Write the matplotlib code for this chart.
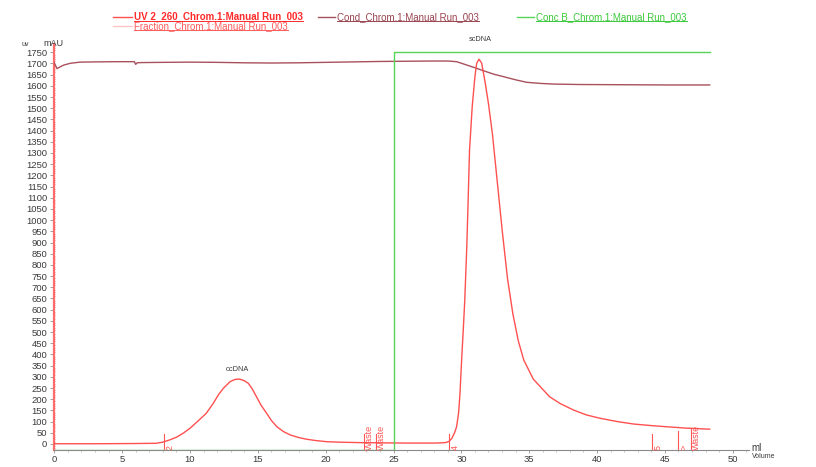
import matplotlib.pyplot as plt
from matplotlib.lines import Line2D
from matplotlib.ticker import MultipleLocator

plt.rcParams['font.family'] = ['Liberation Sans', 'DejaVu Sans']

# UV 260 nm absorbance (mAU) vs volume (ml)
uv_vol = [0, 3.5, 6, 7.5, 8.0, 8.5, 9.0, 9.5, 10.0, 10.6, 11.2, 11.7, 12.1, 12.45,
          12.95, 13.3, 13.63, 13.95, 14.3, 14.6, 14.9, 15.25, 15.65, 16.0, 16.4,
          16.9, 17.4, 18.0, 18.6, 19.3, 20.1, 21.0, 22.5, 24.0, 26.0, 28.0, 28.6,
          28.9, 29.1, 29.3, 29.5, 29.65, 29.8, 29.9, 30.02, 30.15, 30.25, 30.4,
          30.5, 30.6, 30.8, 31.0, 31.13, 31.3, 31.5, 31.74, 32.0, 32.3, 32.6, 33.0,
          33.4, 33.8, 34.2, 34.6, 35.3, 36.5, 37.3, 38.25, 39.2, 40.2, 41.5, 42.7,
          44.0, 45.1, 46.5, 48.3]
uv_mau = [1, 1, 2, 3, 8, 18, 30, 48, 70, 103, 137, 180, 220, 248,
          278, 288, 290, 284, 271, 245, 211, 172, 137, 105, 77,
          55, 40, 29, 21, 15, 10, 8, 6, 5, 4, 4, 5,
          7, 12, 25, 50, 77, 140, 226, 375, 520, 640, 880,
          1087, 1309, 1507, 1641, 1701, 1719, 1701, 1620, 1520, 1380, 1200, 960,
          740, 580, 460, 375, 290, 211, 180, 152, 130, 115, 100, 89,
          82, 77, 71, 66]

# conductivity trace (drawn on the mAU scale as in the original export)
cond_vol = [0, 0.1, 0.2, 0.4, 0.7, 1.2, 1.9, 3, 4.5, 5.9, 6.0, 6.1, 6.4, 8, 10, 12,
            14, 16, 18, 20, 22, 24, 26, 28, 29.0, 29.65, 30.4, 31.0, 31.6, 32.4,
            33.3, 34.0, 34.8, 35.8, 36.8, 38.7, 42, 45, 48.3]
cond_val = [1702, 1690, 1677, 1684, 1693, 1701, 1706, 1707, 1708, 1708, 1696, 1703,
            1704, 1705, 1706, 1705, 1703, 1702, 1703, 1705, 1707, 1709, 1710, 1711,
            1711, 1708, 1693, 1681, 1668, 1652, 1638, 1627, 1616, 1611, 1608, 1606,
            1605, 1604, 1604]

# concentration B (%)
concb_vol = [0, 25, 25, 48.3]
concb_pct = [0, 0, 100, 100]

# fraction marks
frac_vol = [8.08, 22.8, 23.7, 29.1, 44.07, 45.98, 46.9]
frac_lbl = ['2', 'Waste', 'Waste', '4', '5', '>', 'Waste']
frac_top = [45, 45, 45, 45, 45, 58, 70]

# peak names
peak_names = ['ocDNA', 'scDNA']
peak_vol = [13.5, 31.4]
peak_y = [318, 1790]

UV_C = '#ff5050'
COND_C = '#a8505c'
CONC_C = '#55d455'
FRAC_C = '#ff5555'
TXT_C = '#3a3a3a'

W, H = 816, 467
fig = plt.figure(figsize=(W / 100, H / 100), dpi=100)
ax = fig.add_axes([54.3 / W, 1 - 450 / H, (749 - 54.3) / W, (450 - 44) / H])

ax.plot(cond_vol, cond_val, color=COND_C, lw=1.0, zorder=3)
ax.plot(uv_vol, uv_mau, color=UV_C, lw=1.0, zorder=4)

# fraction marks with rotated labels
for v, lbl, top in zip(frac_vol, frac_lbl, frac_top):
    ax.plot([v, v], [-27, top], color=FRAC_C, lw=0.8, zorder=5)
    ax.text(v + 0.1, -25, lbl, rotation=90, ha='left', va='bottom',
            fontsize=6.5, color=FRAC_C, zorder=5)

for name, v, y in zip(peak_names, peak_vol, peak_y):
    ax.text(v, y, name, ha='center', va='bottom', fontsize=5.3, color=TXT_C,
            clip_on=False)

ax.set_xlim(0, 51.2)
ax.set_ylim(-27, 1787)
ax.xaxis.set_major_locator(MultipleLocator(5))
ax.xaxis.set_minor_locator(MultipleLocator(1))
ax.yaxis.set_major_locator(MultipleLocator(50))
ax.yaxis.set_minor_locator(MultipleLocator(10))
ax.set_yticks(range(0, 1751, 50))

ax.spines['top'].set_visible(False)
ax.spines['right'].set_visible(False)
ax.spines['left'].set_color('#ff6a6a')
ax.spines['left'].set_linewidth(1.6)
ax.spines['bottom'].set_color('#8a8a8a')
ax.spines['bottom'].set_linewidth(0.8)

ax.tick_params(axis='y', which='major', length=3, width=0.6, color='#909090',
               labelsize=6.8, labelcolor=TXT_C, pad=2)
ax.tick_params(axis='y', which='minor', length=2, width=0.6, color='#ff8080',
               direction='inout')
ax.tick_params(axis='x', which='major', length=2.5, width=0.6, color='#909090',
               labelsize=6.8, labelcolor=TXT_C, pad=1)
ax.tick_params(axis='x', which='minor', length=1.5, width=0.5, color='#b0b0b0')

# Conc B on its own 0-100 % scale
ax2 = ax.twinx()
ax2.plot(concb_vol, concb_pct, color=CONC_C, lw=1.0, zorder=2)
ax2.set_ylim(0, 101.9)
ax2.set_xlim(0, 51.2)
ax2.axis('off')

# axis captions
fig.text(25 / W, 1 - 44 / H, 'uv', fontsize=5, color=TXT_C, ha='center', va='center')
fig.text(53 / W, 1 - 44 / H, 'mAU', fontsize=6.5, color=TXT_C, ha='center', va='center')
fig.text(751 / W, 1 - 448 / H, 'ml', fontsize=7, color=TXT_C, ha='left', va='center')
fig.text(752 / W, 1 - 457 / H, 'Volume', fontsize=5, color=TXT_C, ha='left', va='center')

# legend at top, underlined entries
legend = [
    (113, 132, 17.3, UV_C, '#ff2a2a', 'UV 2_260_Chrom.1:Manual Run_003', 'bold'),
    (318, 335, 17.3, COND_C, '#9a4450', 'Cond_Chrom.1:Manual Run_003', 'normal'),
    (517, 534, 17.3, CONC_C, '#3cc83c', 'Conc B_Chrom.1:Manual Run_003', 'normal'),
    (113, 132, 26.0, '#ffc4c4', '#ff5a5a', 'Fraction_Chrom.1:Manual Run_003', 'normal'),
]
texts = []
for x0, x1, y, lc, tc, label, wt in legend:
    fig.add_artist(Line2D([x0 / W, x1 / W], [1 - y / H, 1 - y / H], color=lc, lw=1.0))
    t = fig.text((x1 + 2) / W, 1 - y / H, label, fontsize=7.0, color=tc,
                 fontweight=wt, ha='left', va='center')
    texts.append((t, tc))

fig.canvas.draw()
renderer = fig.canvas.get_renderer()
for t, tc in texts:
    bb = t.get_window_extent(renderer)
    yb = bb.y0 + 1.0
    fig.add_artist(Line2D([bb.x0 / W, bb.x1 / W], [yb / H, yb / H], color=tc, lw=0.7))

fig.savefig('out.png', dpi=100)
